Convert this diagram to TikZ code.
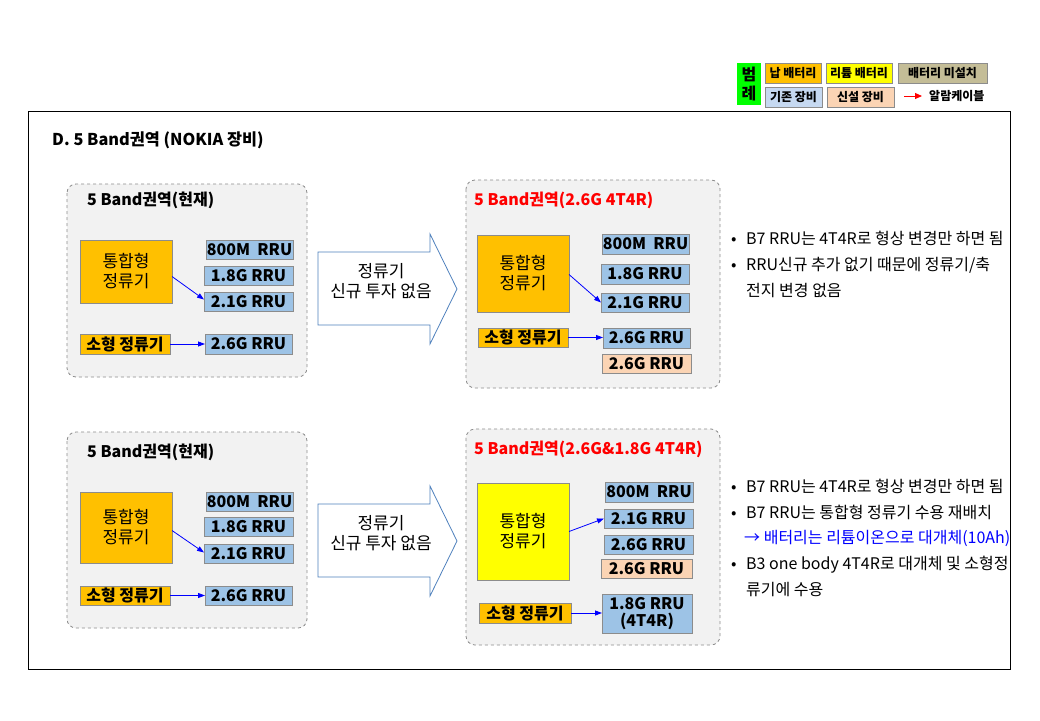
\documentclass[tikz,border=0pt]{standalone}
\usepackage{fontspec}
\setmainfont{Noto Sans CJK KR}
\usetikzlibrary{arrows.meta,calc}
\definecolor{orng}{HTML}{FFC000}
\definecolor{ylw}{HTML}{FFFF00}
\definecolor{tan}{HTML}{C4BD97}
\definecolor{rblue}{HTML}{9DC3E6}
\definecolor{lblue}{HTML}{C6D9F1}
\definecolor{peach}{HTML}{FBD4B4}
\definecolor{lgreen}{HTML}{00FF00}
\definecolor{contfill}{HTML}{F2F2F2}
\definecolor{bdr}{HTML}{8C8C8C}
\definecolor{arrbl}{HTML}{4F81BD}
\newcommand\bx[7]{\node[#1, minimum width={#4-#2}, minimum height={#5-#3}] (#7) at ({(#2+#4)/2},{(#3+#5)/2}) {#6};}
\tikzset{
  base/.style={draw=bdr, line width=1pt, inner sep=0pt, outer sep=0pt, align=center, font=\bfseries\fontsize{16}{17}\selectfont},
  rru/.style={base, fill=rblue},
  newrru/.style={base, fill=peach},
  rect/.style={base, fill=orng},
  bigrect/.style={base, fill=orng, font=\fontsize{17}{20}\selectfont},
  lirect/.style={base, fill=ylw, font=\fontsize{17}{20}\selectfont},
  cont/.style={draw=bdr, dashed, fill=contfill, line width=0.8pt, rounded corners=9pt},
  ctitle/.style={anchor=west, inner sep=0pt, font=\bfseries\fontsize{16}{18}\selectfont},
  conn/.style={draw=blue, line width=0.8pt, -{Triangle[length=7pt,width=5pt]}},
  leg/.style={draw=bdr, line width=0.8pt, inner sep=0pt, outer sep=0pt, font=\bfseries\fontsize{12}{13}\selectfont},
  bul/.style={anchor=base west, inner sep=0pt, font=\fontsize{16}{18}\selectfont},
  blk/.style={draw=arrbl, fill=white, line width=0.8pt},
  blktxt/.style={align=center, inner sep=0pt, font=\fontsize{17}{20}\selectfont},
}
\begin{document}
\begin{tikzpicture}[x=1pt,y=-1pt]
\useasboundingbox (0,0) rectangle (1040,720);
\fill[white] (0,0) rectangle (1040,720);
% legend
\bx{leg, fill=lgreen, font=\bfseries\fontsize{16}{19}\selectfont, align=center, draw=none}{737}{63}{761}{105}{범\\례}{lg0}
\bx{leg, fill=orng}{765}{63}{821}{83}{납 배터리}{lg1}
\bx{leg, fill=ylw}{826}{63}{892}{83}{리튬 배터리}{lg2}
\bx{leg, fill=tan}{898}{63}{987}{83}{배터리 미설치}{lg3}
\bx{leg, fill=lblue}{765}{87}{822}{107}{기존 장비}{lg4}
\bx{leg, fill=peach}{827}{87}{894}{107}{신설 장비}{lg5}
\coordinate (la1) at (904,96);
\coordinate (la2) at (922,96);
\draw[red, line width=1pt, -{Triangle[length=7pt,width=6pt]}] (la1) -- (la2);
\node[anchor=west, inner sep=0pt, font=\bfseries\fontsize{12}{13}\selectfont] (lg6) at (929,96) {알람케이블};
% frame
\draw[black, line width=1pt] (28,111) rectangle (1010,669);
\node[anchor=west, inner sep=0pt, font=\bfseries\fontsize{16.3}{18}\selectfont] (title) at (52,140) {D. 5 Band권역 (NOKIA 장비)};

% ---------- top left
\draw[cont] (67,184) rectangle (307,377);
\node[ctitle] (c1t) at (87,200) {5 Band권역(현재)};
\bx{bigrect}{80}{240}{172}{303}{통합형\\정류기}{t1}
\bx{rru}{206}{240}{293}{259}{800M~ RRU}{a1}
\bx{rru}{204}{266}{293}{285}{1.8G RRU}{a2}
\bx{rru}{204}{292}{293}{311}{2.1G RRU}{a3}
\bx{rect}{80}{334}{170}{354}{소형 정류기}{s1}
\bx{rru}{205}{334}{292}{354}{2.6G RRU}{a4}
\draw[conn] ([yshift=-5pt]t1.east) -- ([yshift=2pt]a3.west);
\draw[conn] (s1.east) -- (a4.west);

% block arrow 1
\draw[blk] (318,252) -- (430,252) -- (430,234) -- (457,289) -- (430,344) -- (430,325) -- (318,325) -- cycle;
\node[blktxt] (ba1) at (381,281) {정류기\\신규 투자 없음};

% ---------- top right
\draw[cont] (466,180) rectangle (720,388);
\node[ctitle, text=red] (c2t) at (474,200) {5 Band권역(2.6G 4T4R)};
\bx{bigrect}{477}{235}{569}{312}{통합형\\정류기}{t2}
\bx{rru}{602}{234}{689}{254}{800M~ RRU}{b1}
\bx{rru}{601}{264}{689}{284}{1.8G RRU}{b2}
\bx{rru}{601}{293}{689}{312}{2.1G RRU}{b3}
\bx{rect}{478}{328}{568}{347}{소형 정류기}{s2}
\bx{rru}{603}{328}{690}{348}{2.6G RRU}{b4}
\bx{newrru}{602}{354}{691}{373}{2.6G RRU}{b5}
\draw[conn] ([yshift=-1pt]t2.east) -- ([yshift=0pt]b3.west);
\draw[conn] (s2.east) -- ([yshift=0.5pt]b4.west);

% bullets top
\node[bul] (n1) at (731,244) {•};
\node[bul] (n1t) at (746,244) {B7 RRU는 4T4R로 형상 변경만 하면 됨};
\node[bul] (n2) at (731,270) {•};
\node[bul] (n2t) at (746,270) {RRU신규 추가 없기 때문에 정류기/축};
\node[bul] (n3t) at (746,296) {전지 변경 없음};

% ---------- bottom left
\draw[cont] (67,432) rectangle (307,628);
\node[ctitle] (c3t) at (87,452) {5 Band권역(현재)};
\bx{bigrect}{80}{492}{172}{563}{통합형\\정류기}{t3}
\bx{rru}{206}{492}{293}{511}{800M~ RRU}{d1}
\bx{rru}{204}{517}{293}{536}{1.8G RRU}{d2}
\bx{rru}{204}{544}{293}{563}{2.1G RRU}{d3}
\bx{rect}{80}{586}{170}{605}{소형 정류기}{s3}
\bx{rru}{205}{586}{292}{605}{2.6G RRU}{d4}
\draw[conn] ([yshift=-3pt]t3.east) -- ([yshift=1pt]d3.west);
\draw[conn] (s3.east) -- (d4.west);

% block arrow 2
\draw[blk] (318,504) -- (430,504) -- (430,486) -- (457,541) -- (430,596) -- (430,577) -- (318,577) -- cycle;
\node[blktxt] (ba2) at (381,533) {정류기\\신규 투자 없음};

% ---------- bottom right
\draw[cont] (466,429) rectangle (720,645);
\node[ctitle, text=red] (c4t) at (474,449) {5 Band권역(2.6G\&1.8G 4T4R)};
\bx{lirect}{477}{483}{569}{580}{통합형\\정류기}{t4}
\bx{rru}{605}{482}{693}{502}{800M~ RRU}{e1}
\bx{rru}{604}{509}{693}{528}{2.1G RRU}{e2}
\bx{rru}{604}{535}{693}{554}{2.6G RRU}{e3}
\bx{newrru}{601}{559}{692}{578}{2.6G RRU}{e4}
\bx{rect}{479}{603}{571}{623}{소형 정류기}{s4}
\bx{rru}{602}{594}{692}{633}{1.8G RRU\\(4T4R)}{e5}
\draw[conn] (t4.east) -- (e2.west);
\draw[conn] (s4.east) -- ([yshift=0.5pt]e5.west);

% bullets bottom
\node[bul] (m1) at (731,492) {•};
\node[bul] (m1t) at (746,492) {B7 RRU는 4T4R로 형상 변경만 하면 됨};
\node[bul] (m2) at (731,518) {•};
\node[bul] (m2t) at (746,518) {B7 RRU는 통합형 정류기 수용 재배치};
\node[bul, text=blue] (m3t) at (744,543) {→ 배터리는 리튬이온으로 대개체(10Ah)};
\node[bul] (m4) at (731,569) {•};
\node[bul] (m4t) at (746,569) {B3 one body 4T4R로 대개체 및 소형정};
\node[bul] (m5t) at (746,595) {류기에 수용};
\end{tikzpicture}
\end{document}
